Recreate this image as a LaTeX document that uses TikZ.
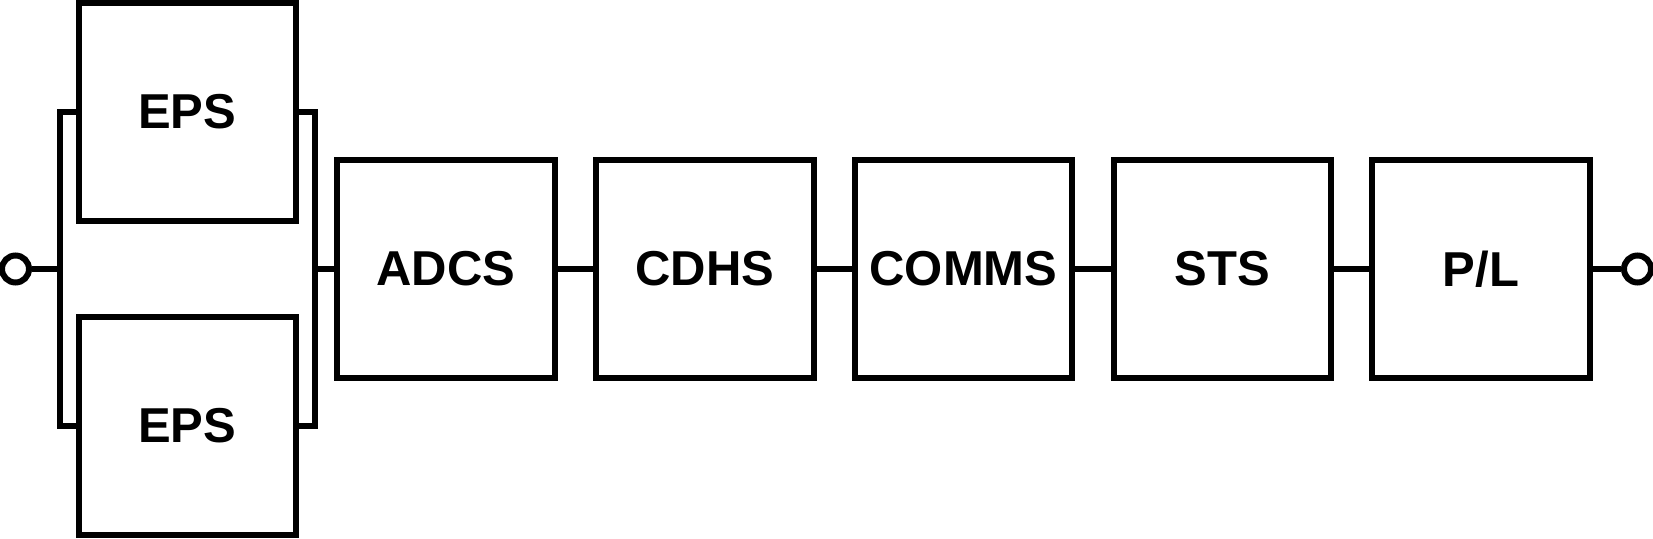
\documentclass[tikz,border=0pt]{standalone}
\usepackage{fontspec}
\setmainfont{Liberation Sans}
\begin{document}
\begin{tikzpicture}[x=0.5pt,y=-0.5pt,
  line width=3pt,
  blk/.style={draw, rectangle, inner sep=0pt, minimum width=108.75pt, minimum height=109pt,
    font=\fontsize{24.5}{29}\selectfont\bfseries},
  term/.style={draw, circle, inner sep=0pt, minimum size=13.5pt}]
\useasboundingbox (0,0) rectangle (1653,539);
\node[blk] (epsT) at (187.25,112) {EPS};
\node[blk] (epsB) at (187.25,426) {EPS};
\node[blk] (adcs) at (446,269) {ADCS};
\node[blk] (cdhs) at (704.75,269) {CDHS};
\node[blk] (comms) at (963.5,269) {COMMS};
\node[blk] (sts) at (1222.25,269) {STS};
\node[blk] (pl) at (1481,269) {P/L};
\node[term] (in) at (15.5,269) {};
\node[term] (out) at (1637.5,269) {};
\coordinate (lb) at (59.5,269);
\coordinate (rb) at (315,269);
\draw (epsT.west) -| (lb) |- (epsB.west);
\draw (epsT.east) -| (rb) |- (epsB.east);
\draw (in) -- (lb);
\draw (rb) -- (adcs);
\draw (adcs) -- (cdhs);
\draw (cdhs) -- (comms);
\draw (comms) -- (sts);
\draw (sts) -- (pl);
\draw (pl) -- (out);
\end{tikzpicture}
\end{document}
